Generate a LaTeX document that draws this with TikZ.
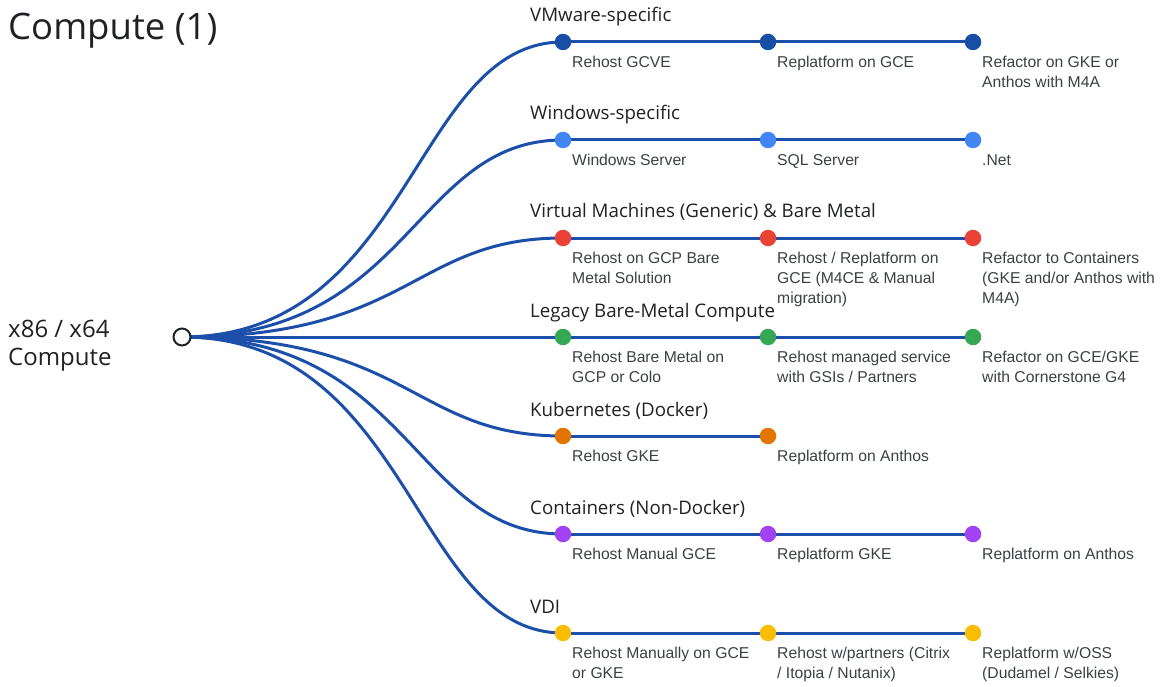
\documentclass[tikz,border=0pt]{standalone}
\usepackage{fontspec}
\usetikzlibrary{calc,backgrounds}
\setmainfont{Liberation Sans}
\newfontfamily\hdfont{Open Sans}
\definecolor{linec}{HTML}{1C4FA9}
\definecolor{cvm}{HTML}{174EA6}
\definecolor{cwin}{HTML}{4285F4}
\definecolor{cred}{HTML}{EA4335}
\definecolor{cgreen}{HTML}{34A853}
\definecolor{corange}{HTML}{E37400}
\definecolor{cpurple}{HTML}{A142F4}
\definecolor{cyellow}{HTML}{FBBC04}
\definecolor{txt}{HTML}{202124}
\definecolor{ltxt}{HTML}{3C4043}
\begin{document}
\begin{tikzpicture}[x=1pt,y=-1pt,
  dot/.style={circle,fill=#1,minimum size=16.5pt,inner sep=0pt},
  conn/.style={draw=linec,line width=3pt},
  hdr/.style={anchor=base west,inner sep=0pt,font=\hdfont\fontsize{18.7}{20}\selectfont,text=txt},
  lbl/.style={anchor=north west,inner sep=0pt,align=left,font=\fontsize{15.7}{19.8}\selectfont,text=ltxt},
  rootc/.style={circle,draw=txt,line width=2pt,fill=white,minimum size=17pt,inner sep=0pt}]
\useasboundingbox (0,0) rectangle (1161,687);
\node[anchor=base west,inner sep=0pt,font=\hdfont\fontsize{36.5}{40}\selectfont,text=txt] (title) at (8,40) {Compute (1)};
\node[anchor=north west,inner sep=0pt,align=left,font=\hdfont\fontsize{24}{28}\selectfont,text=txt] (rootlbl) at (8,320) {x86 / x64\\Compute};
\node[rootc] (root) at (182,337) {};
% dots
\foreach \i/\y/\c in {1/42/cvm,2/140/cwin,3/238/cred,4/337/cgreen,6/534/cpurple,7/633/cyellow}{
  \node[dot=\c] (d\i a) at (563,\y) {};
  \node[dot=\c] (d\i b) at (768,\y) {};
  \node[dot=\c] (d\i c) at (973,\y) {};
}
\node[dot=corange] (d5a) at (563,436) {};
\node[dot=corange] (d5b) at (768,436) {};
\begin{scope}[on background layer]
\foreach \i in {1,...,7}{
  \draw[conn] (root.center) .. controls ($(root.center)+(230,0)$) and ($(d\i a.center)+(-150,0)$) .. (d\i a.center);
}
\foreach \i in {1,2,3,4,6,7}{
  \draw[conn] (d\i a.center) -- (d\i b.center) -- (d\i c.center);
}
\draw[conn] (d5a.center) -- (d5b.center);
\end{scope}
% headers
\node[hdr] (h1) at (530,22) {VMware-specific};
\node[hdr] (h2) at (530,120) {Windows-specific};
\node[hdr] (h3) at (530,218) {Virtual Machines (Generic) \& Bare Metal};
\node[hdr] (h4) at (530,317) {Legacy Bare-Metal Compute};
\node[hdr] (h5) at (530,416) {Kubernetes (Docker)};
\node[hdr] (h6) at (530,514) {Containers (Non-Docker)};
\node[hdr] (h7) at (530,613) {VDI};
% labels
\node[lbl] (l1a) at (572,56) {Rehost GCVE};
\node[lbl] (l1b) at (777,56) {Replatform on GCE};
\node[lbl] (l1c) at (982,56) {Refactor on GKE or\\Anthos with M4A};
\node[lbl] (l2a) at (572,154) {Windows Server};
\node[lbl] (l2b) at (777,154) {SQL Server};
\node[lbl] (l2c) at (982,154) {.Net};
\node[lbl] (l3a) at (572,252) {Rehost on GCP Bare\\Metal Solution};
\node[lbl] (l3b) at (777,252) {Rehost / Replatform on\\GCE (M4CE \& Manual\\migration)};
\node[lbl] (l3c) at (982,252) {Refactor to Containers\\(GKE and/or Anthos with\\M4A)};
\node[lbl] (l4a) at (572,351) {Rehost Bare Metal on\\GCP or Colo};
\node[lbl] (l4b) at (777,351) {Rehost managed service\\with GSIs / Partners};
\node[lbl] (l4c) at (982,351) {Refactor on GCE/GKE\\with Cornerstone G4};
\node[lbl] (l5a) at (572,450) {Rehost GKE};
\node[lbl] (l5b) at (777,450) {Replatform on Anthos};
\node[lbl] (l6a) at (572,548) {Rehost Manual GCE};
\node[lbl] (l6b) at (777,548) {Replatform GKE};
\node[lbl] (l6c) at (982,548) {Replatform on Anthos};
\node[lbl] (l7a) at (572,647) {Rehost Manually on GCE\\or GKE};
\node[lbl] (l7b) at (777,647) {Rehost w/partners (Citrix\\/ Itopia / Nutanix)};
\node[lbl] (l7c) at (982,647) {Replatform w/OSS\\(Dudamel / Selkies)};
\end{tikzpicture}
\end{document}
